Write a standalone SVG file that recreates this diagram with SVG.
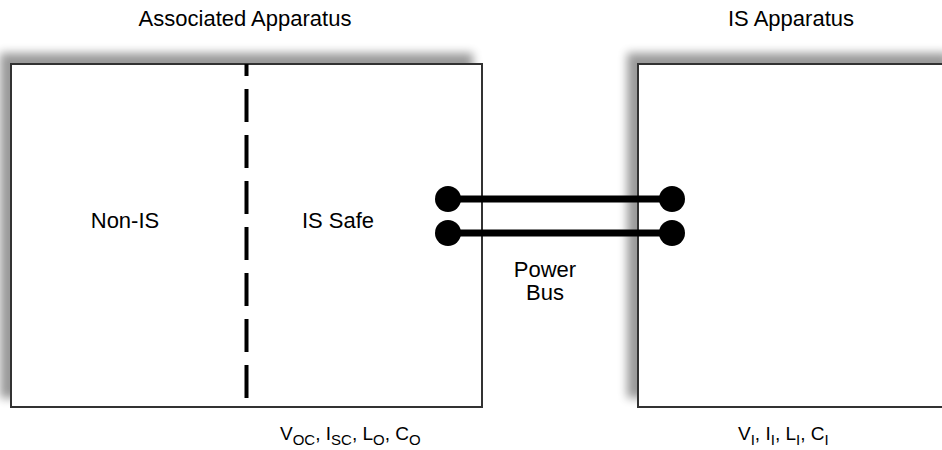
<svg xmlns="http://www.w3.org/2000/svg" width="942" height="450" viewBox="0 0 942 450">
<defs>
<filter id="sh" x="-10%" y="-10%" width="120%" height="120%">
<feGaussianBlur in="SourceAlpha" stdDeviation="5"/>
<feOffset dx="-10" dy="-10" result="b"/>
<feComponentTransfer in="b" result="c"><feFuncA type="linear" slope="0.4"/></feComponentTransfer>
<feMerge><feMergeNode in="c"/><feMergeNode in="SourceGraphic"/></feMerge>
</filter>
<style>
.box{fill:#fff;stroke:#333;stroke-width:2}
.t{font-family:"Liberation Sans",Arial,sans-serif;font-size:22px;fill:#000}
.b{font-size:19px}
.s{font-size:15px}
.w{stroke:#000;stroke-width:7}
</style>
</defs>
<rect width="942" height="450" fill="#fff"/>
<g id="associated">
<rect class="box" x="11" y="64" width="471" height="343" filter="url(#sh)"/>
<line x1="246.5" y1="64" x2="246.5" y2="403" stroke="#000" stroke-width="4" stroke-dasharray="12 13 33 13 33 13 33 13 33 13 33 13 33 13 33 13 33"/>
<text class="t" x="245" y="26" text-anchor="middle">Associated Apparatus</text>
<text class="t" x="125" y="228" text-anchor="middle">Non-IS</text>
<text class="t" x="338" y="228" text-anchor="middle">IS Safe</text>
<text class="t b" x="280" y="440">V<tspan class="s" dy="5">OC</tspan><tspan dy="-5">, I</tspan><tspan class="s" dy="5">SC</tspan><tspan dy="-5">, L</tspan><tspan class="s" dy="5">O</tspan><tspan dy="-5">, C</tspan><tspan class="s" dy="5">O</tspan></text>
</g>
<g id="is-apparatus">
<rect class="box" x="638" y="64" width="320" height="343" filter="url(#sh)"/>
<text class="t" x="791" y="26" text-anchor="middle">IS Apparatus</text>
<text class="t b" x="738" y="440">V<tspan class="s" dy="5">I</tspan><tspan dy="-5">, I</tspan><tspan class="s" dy="5">I</tspan><tspan dy="-5">, L</tspan><tspan class="s" dy="5">I</tspan><tspan dy="-5">, C</tspan><tspan class="s" dy="5">I</tspan></text>
</g>
<g id="connectors">
<line class="w" x1="448" y1="199" x2="672" y2="199"/>
<line class="w" x1="448" y1="233" x2="672" y2="233"/>
<circle cx="448" cy="199" r="13"/>
<circle cx="672" cy="199" r="13"/>
<circle cx="448" cy="233" r="13"/>
<circle cx="672" cy="233" r="13"/>
<text class="t" x="545" y="277" text-anchor="middle">Power</text>
<text class="t" x="545" y="300" text-anchor="middle">Bus</text>
</g>
</svg>
